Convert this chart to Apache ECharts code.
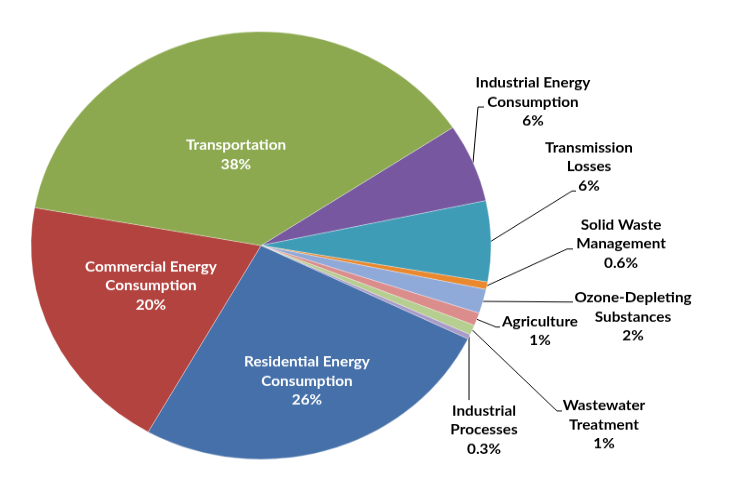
<!DOCTYPE html>
<html>
<head>
<meta charset="utf-8">
<script src="https://cdn.jsdelivr.net/npm/echarts@6/dist/echarts.min.js"></script>
<style>
  html, body { margin: 0; padding: 0; background: #fff; overflow: hidden; }
  #frame { width: 744px; height: 504px; overflow: hidden; }
  /* the source picture is squeezed vertically, so the pie is an ellipse */
  #chart { width: 744px; height: 542px; transform: scaleY(0.93); transform-origin: 0 0; }
</style>
</head>
<body>
<div id="frame"><div id="chart"></div></div>
<script>
// slices in clockwise order, starting just after Transportation
var categories = [
    'Industrial Energy\nConsumption',
    'Transmission\nLosses',
    'Solid Waste\nManagement',
    'Ozone-Depleting\nSubstances',
    'Agriculture',
    'Wastewater\nTreatment',
    'Industrial\nProcesses',
    'Residential Energy\nConsumption',
    'Commercial Energy\nConsumption',
    'Transportation'
];
var values = [5.95, 6.1, 0.56, 1.83, 0.97, 0.75, 0.36, 26.0, 19.7, 37.9];
var pctLabels = ['6%', '6%', '0.6%', '2%', '1%', '1%', '0.3%', '26%', '20%', '38%'];

var colors = [
    '#7657A0',
    '#3E9CB7',
    '#E9882D',
    '#8FA9D9',
    '#DB8D8C',
    '#B6CE90',
    '#A99BC8',
    '#4670A9',
    '#B3433F',
    '#8CA94F'
];

var SY = 0.93; // vertical squeeze of the whole chart

// label centres and leader-line bends, in screen pixels
var labelPos = [
    [533, 102], [589, 167], [621, 244], [633, 317], [540, 331],
    [604, 425], [484, 430], [307, 381], [151, 286], [236, 155]
];
var lineBends = [
    [[478, 107], [484, 107]],
    [[572, 191], [576, 191]],
    [[567, 249], [573, 249]],
    [[566, 302], [573, 302]],
    [[496, 327], [500, 327]],
    [[557, 411], [562, 411]],
    'drop',
    null, null, null
];
var insideCount = 3;

function toChart(pt) {
    return [pt[0], pt[1] / SY];
}

window.onload = function () {
    var chart = echarts.init(document.getElementById('chart'));

    var data = [];
    for (var i = 0; i < categories.length; i++) {
        var inside = i >= categories.length - insideCount;
        data.push({
            name: categories[i],
            value: values[i],
            itemStyle: { color: colors[i] },
            label: {
                position: inside ? 'inside' : 'outside',
                color: inside ? '#fff' : '#000'
            },
            labelLine: { show: !inside }
        });
    }

    chart.setOption({
        backgroundColor: '#fff',
        animation: false,
        series: [{
            type: 'pie',
            center: [261, 245.5 / SY],
            radius: 230,
            startAngle: 33.5,
            clockwise: true,
            avoidLabelOverlap: false,
            itemStyle: { borderColor: 'rgba(255,255,255,0.55)', borderWidth: 0.6 },
            label: {
                show: true,
                fontFamily: 'Lato',
                fontWeight: 'bold',
                fontSize: 15.3,
                lineHeight: 19 / SY,
                align: 'center',
                formatter: function (p) {
                    return p.name + '\n' + pctLabels[p.dataIndex];
                }
            },
            labelLine: {
                show: true,
                length: 10,
                length2: 10,
                lineStyle: { color: '#000', width: 1 }
            },
            labelLayout: function (p) {
                var i = p.dataIndex;
                var c = toChart(labelPos[i]);
                var out = { x: c[0], y: c[1], align: 'center', verticalAlign: 'middle' };
                var bends = lineBends[i];
                if (bends && p.labelLinePoints) {
                    var p0 = p.labelLinePoints[0];
                    if (bends === 'drop') {
                        // straight down to the label below
                        var end = [p0[0], 400 / SY];
                        out.labelLinePoints = [p0, end, end];
                    } else {
                        out.labelLinePoints = [p0, toChart(bends[0]), toChart(bends[1])];
                    }
                }
                return out;
            },
            data: data
        }]
    });
};
</script>
</body>
</html>
